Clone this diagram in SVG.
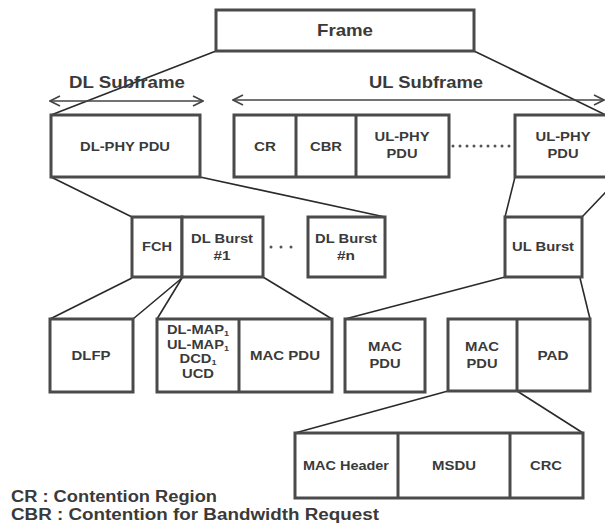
<svg xmlns="http://www.w3.org/2000/svg" width="605" height="525" viewBox="0 0 605 525">
  <defs>
    <style>
      .box { fill: #ffffff; stroke: #4a4a4a; stroke-width: 3; }
      .div { stroke: #4a4a4a; stroke-width: 3; fill: none; }
      .conn { stroke: #2a2a2a; stroke-width: 1.6; fill: none; }
      .dots { stroke: #555555; stroke-width: 3; stroke-linecap: round; stroke-dasharray: 0 7; fill: none; }
      .dots2 { stroke: #555555; stroke-width: 3; stroke-linecap: round; stroke-dasharray: 0 10; fill: none; }
      .arrow { stroke: #444444; stroke-width: 1.6; fill: none; }
      .t { font-family: "Liberation Sans", Arial, sans-serif; font-weight: bold; fill: #3a3a3a; text-anchor: middle; font-size: 13px; }
      .title { font-family: "Liberation Sans", Arial, sans-serif; font-weight: bold; fill: #3a3a3a; text-anchor: middle; font-size: 17px; }
      .legend { font-family: "Liberation Sans", Arial, sans-serif; font-weight: bold; fill: #3a3a3a; font-size: 16px; }
    </style>
    <marker id="chev" viewBox="0 0 12 12" refX="11" refY="6" markerWidth="12" markerHeight="12" markerUnits="userSpaceOnUse" orient="auto-start-reverse">
      <path d="M1,1 L11,6 L1,11" fill="none" stroke="#444444" stroke-width="1.6"/>
    </marker>
  </defs>
  <rect width="605" height="525" fill="#ffffff"/>

  <g id="connectors">
    <line class="conn" x1="216" y1="51" x2="51" y2="115"/>
    <line class="conn" x1="474" y1="51" x2="612" y2="118"/>
    <line class="conn" x1="51" y1="177" x2="132" y2="217"/>
    <line class="conn" x1="200" y1="177" x2="385" y2="217"/>
    <line class="conn" x1="515" y1="177" x2="505" y2="217"/>
    <line class="conn" x1="582" y1="217" x2="620" y2="177"/>
    <line class="conn" x1="132" y1="278" x2="50" y2="319"/>
    <line class="conn" x1="182" y1="278" x2="133" y2="319"/>
    <line class="conn" x1="182" y1="278" x2="157" y2="319"/>
    <line class="conn" x1="263" y1="277" x2="332" y2="319"/>
    <line class="conn" x1="505" y1="277" x2="345" y2="319"/>
    <line class="conn" x1="580" y1="278" x2="590" y2="319"/>
    <line class="conn" x1="448" y1="391" x2="295" y2="433"/>
    <line class="conn" x1="517" y1="391" x2="583" y2="433"/>
    <line class="dots" x1="453" y1="146" x2="512" y2="146"/>
    <line class="dots2" x1="271" y1="247" x2="301" y2="247"/>
    <line class="arrow" x1="50" y1="101" x2="203" y2="101" marker-start="url(#chev)" marker-end="url(#chev)"/>
    <line class="arrow" x1="233" y1="100" x2="604" y2="100" marker-start="url(#chev)" marker-end="url(#chev)"/>
  </g>

  <g id="frame">
    <rect class="box" x="216" y="10" width="258" height="41"/>
    <text class="title" x="345" y="36" textLength="56" lengthAdjust="spacingAndGlyphs">Frame</text>
  </g>
  <g id="dl-subframe-label">
    <text class="title" x="127" y="88" textLength="116" lengthAdjust="spacingAndGlyphs">DL Subframe</text>
  </g>
  <g id="ul-subframe-label">
    <text class="title" x="426" y="88" textLength="114" lengthAdjust="spacingAndGlyphs">UL Subframe</text>
  </g>

  <g id="dl-phy-pdu">
    <rect class="box" x="51" y="115" width="149" height="62"/>
    <text class="t" x="125" y="151" textLength="90" lengthAdjust="spacingAndGlyphs">DL-PHY PDU</text>
  </g>

  <g id="ul-group">
    <rect class="box" x="234" y="115" width="215" height="62"/>
    <line class="div" x1="296" y1="115" x2="296" y2="177"/>
    <line class="div" x1="356" y1="115" x2="356" y2="177"/>
    <text class="t" x="265" y="151" textLength="22" lengthAdjust="spacingAndGlyphs">CR</text>
    <text class="t" x="326" y="151" textLength="32" lengthAdjust="spacingAndGlyphs">CBR</text>
    <text class="t" x="402" y="141" textLength="55" lengthAdjust="spacingAndGlyphs">UL-PHY</text>
    <text class="t" x="402" y="158" textLength="31" lengthAdjust="spacingAndGlyphs">PDU</text>
  </g>

  <g id="ul-phy-pdu-n">
    <rect class="box" x="515" y="115" width="100" height="62"/>
    <text class="t" x="563" y="141" textLength="55" lengthAdjust="spacingAndGlyphs">UL-PHY</text>
    <text class="t" x="563" y="158" textLength="31" lengthAdjust="spacingAndGlyphs">PDU</text>
  </g>

  <g id="fch">
    <rect class="box" x="132" y="217" width="50" height="60"/>
    <text class="t" x="157" y="251" textLength="30" lengthAdjust="spacingAndGlyphs">FCH</text>
  </g>
  <g id="dl-burst-1">
    <rect class="box" x="182" y="217" width="81" height="60"/>
    <text class="t" x="222" y="243" textLength="62" lengthAdjust="spacingAndGlyphs">DL Burst</text>
    <text class="t" x="222" y="260" textLength="17" lengthAdjust="spacingAndGlyphs">#1</text>
  </g>
  <g id="dl-burst-n">
    <rect class="box" x="308" y="217" width="77" height="60"/>
    <text class="t" x="346" y="243" textLength="62" lengthAdjust="spacingAndGlyphs">DL Burst</text>
    <text class="t" x="346" y="260" textLength="18" lengthAdjust="spacingAndGlyphs">#n</text>
  </g>
  <g id="ul-burst">
    <rect class="box" x="505" y="217" width="77" height="60"/>
    <text class="t" x="543" y="251" textLength="62" lengthAdjust="spacingAndGlyphs">UL Burst</text>
  </g>

  <g id="dlfp">
    <rect class="box" x="50" y="319" width="83" height="73"/>
    <text class="t" x="91" y="360" textLength="39" lengthAdjust="spacingAndGlyphs">DLFP</text>
  </g>
  <g id="dl-mac-group">
    <rect class="box" x="157" y="319" width="175" height="73"/>
    <line class="div" x1="239" y1="319" x2="239" y2="392"/>
    <text class="t" x="198" y="334" textLength="62" lengthAdjust="spacingAndGlyphs">DL-MAP<tspan font-size="8" dy="2">1</tspan></text>
    <text class="t" x="198" y="349" textLength="62" lengthAdjust="spacingAndGlyphs">UL-MAP<tspan font-size="8" dy="2">1</tspan></text>
    <text class="t" x="198" y="363" textLength="37" lengthAdjust="spacingAndGlyphs">DCD<tspan font-size="8" dy="2">1</tspan></text>
    <text class="t" x="198" y="378" textLength="32" lengthAdjust="spacingAndGlyphs">UCD</text>
    <text class="t" x="285" y="360" textLength="70" lengthAdjust="spacingAndGlyphs">MAC PDU</text>
  </g>
  <g id="ul-mac-pdu">
    <rect class="box" x="345" y="319" width="80" height="73"/>
    <text class="t" x="385" y="351" textLength="34" lengthAdjust="spacingAndGlyphs">MAC</text>
    <text class="t" x="385" y="368" textLength="31" lengthAdjust="spacingAndGlyphs">PDU</text>
  </g>
  <g id="ul-mac-pad">
    <rect class="box" x="448" y="319" width="142" height="72"/>
    <line class="div" x1="517" y1="319" x2="517" y2="391"/>
    <text class="t" x="482" y="351" textLength="34" lengthAdjust="spacingAndGlyphs">MAC</text>
    <text class="t" x="482" y="368" textLength="31" lengthAdjust="spacingAndGlyphs">PDU</text>
    <text class="t" x="553" y="360" textLength="31" lengthAdjust="spacingAndGlyphs">PAD</text>
  </g>

  <g id="mac-pdu-detail">
    <rect class="box" x="295" y="433" width="288" height="65"/>
    <line class="div" x1="398" y1="433" x2="398" y2="498"/>
    <line class="div" x1="510" y1="433" x2="510" y2="498"/>
    <text class="t" x="346" y="470" textLength="86" lengthAdjust="spacingAndGlyphs">MAC Header</text>
    <text class="t" x="454" y="470" textLength="44" lengthAdjust="spacingAndGlyphs">MSDU</text>
    <text class="t" x="546" y="470" textLength="32" lengthAdjust="spacingAndGlyphs">CRC</text>
  </g>

  <g id="legend">
    <text class="legend" x="11" y="502" textLength="206" lengthAdjust="spacingAndGlyphs">CR : Contention Region</text>
    <text class="legend" x="11" y="520" textLength="368" lengthAdjust="spacingAndGlyphs">CBR : Contention for Bandwidth Request</text>
  </g>
</svg>
